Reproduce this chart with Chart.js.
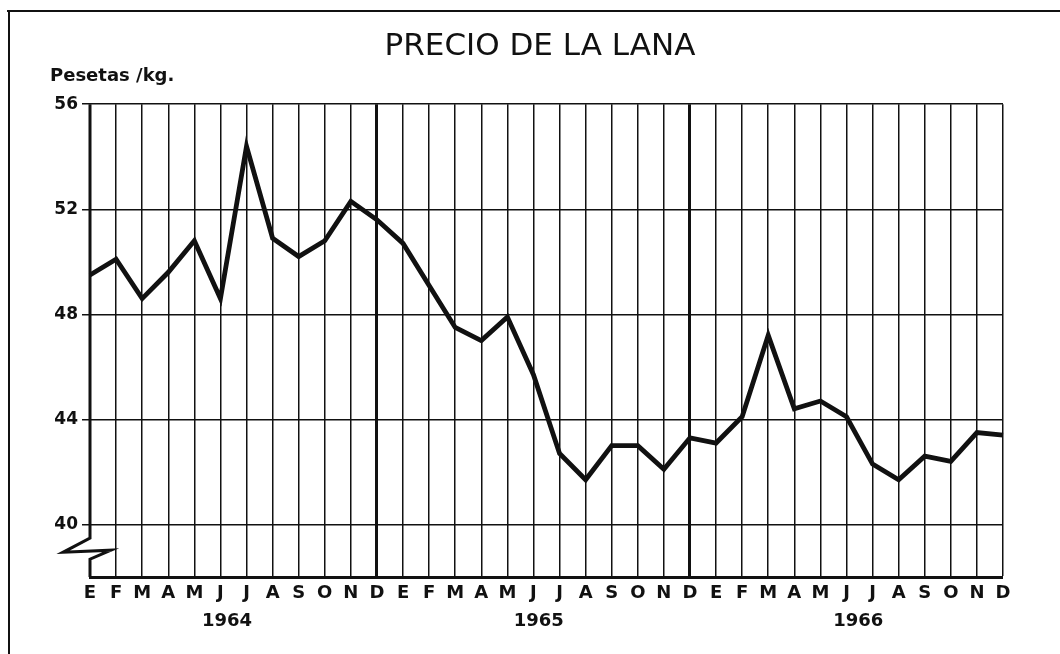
<!DOCTYPE html>
<html>
<head>
<meta charset="utf-8">
<script src="https://cdn.jsdelivr.net/npm/chart.js@4.4.0/dist/chart.umd.min.js"></script>
<style>
  html, body { margin: 0; padding: 0; background: #fff; }
</style>
</head>
<body>
<canvas id="lanaChart" width="1060" height="654"></canvas>
<script>
// datos
var years = ['1964', '1965', '1966'];
var monthLetters = ['E', 'F', 'M', 'A', 'M', 'J', 'J', 'A', 'S', 'O', 'N', 'D'];
var precio = [
  49.5, 50.1, 48.6, 49.6, 50.8, 48.6, 54.4, 50.9, 50.2, 50.8, 52.3, 51.6,
  50.7, 49.1, 47.5, 47.0, 47.9, 45.7, 42.7, 41.7, 43.0, 43.0, 42.1, 43.3,
  43.1, 44.1, 47.2, 44.4, 44.7, 44.1, 42.3, 41.7, 42.6, 42.4, 43.5, 43.4
];
var yTicks = [40, 44, 48, 52, 56];
var yMin = 38;
var yMax = 56;

var labels = [];
years.forEach(function (yr) {
  monthLetters.forEach(function (m) { labels.push(m); });
});

var ink = '#111';
var letra = '"DejaVu Sans", sans-serif';

// marco, corte del eje, unidades y años
var decor = {
  id: 'decor',
  beforeDraw: function (chart) {
    var ctx = chart.ctx;
    ctx.save();
    ctx.fillStyle = '#fff';
    ctx.fillRect(0, 0, chart.width, chart.height);
    ctx.strokeStyle = ink;
    ctx.lineWidth = 2;
    ctx.beginPath();
    ctx.moveTo(7, 11);
    ctx.lineTo(chart.width, 11);
    ctx.moveTo(9, 11);
    ctx.lineTo(9, chart.height);
    ctx.stroke();
    ctx.restore();
  },
  afterDraw: function (chart) {
    var ctx = chart.ctx;
    var x = chart.scales.x;
    var y = chart.scales.y;
    var left = chart.chartArea.left;
    ctx.save();
    ctx.strokeStyle = ink;
    ctx.lineJoin = 'miter';
    // eje vertical con el corte
    ctx.lineWidth = 3;
    ctx.beginPath();
    ctx.moveTo(left, y.top);
    ctx.lineTo(left, y.getPixelForValue(39.48));
    ctx.lineTo(left - 27, y.getPixelForValue(38.94));
    ctx.lineTo(left + 21, y.getPixelForValue(39.02));
    ctx.lineTo(left, y.getPixelForValue(38.68));
    ctx.lineTo(left, y.bottom);
    ctx.stroke();

    ctx.fillStyle = ink;
    ctx.font = 'bold 18px ' + letra;
    ctx.textAlign = 'left';
    ctx.textBaseline = 'alphabetic';
    ctx.fillText('Pesetas /kg.', 50, 81);

    var centros = [5.25, 17.2, 29.45];
    ctx.textAlign = 'center';
    years.forEach(function (yr, i) {
      ctx.fillText(yr, x.getPixelForValue(centros[i]), 626);
    });
    ctx.restore();
  }
};

var ctx = document.getElementById('lanaChart');
var lanaChart = new Chart(ctx, {
  type: 'line',
  data: {
    labels: labels,
    datasets: [
      {
        label: 'Precio de la lana',
        data: precio,
        borderColor: ink,
        borderWidth: 4.8,
        borderJoinStyle: 'miter',
        pointRadius: 0,
        tension: 0,
        fill: false
      }
    ]
  },
  options: {
    responsive: false,
    animation: false,
    layout: { padding: { left: 20, right: 0, top: 0, bottom: 0 } },
    plugins: {
      legend: { display: false },
      tooltip: { enabled: false },
      title: {
        display: true,
        text: 'PRECIO DE LA LANA',
        color: ink,
        font: { family: letra, size: 31, weight: 'normal' },
        padding: { top: 28, bottom: 39 }
      }
    },
    scales: {
      x: {
        offset: false,
        border: { display: true, color: ink, width: 3 },
        grid: {
          color: ink,
          drawTicks: false,
          lineWidth: function (c) {
            if (c.index === 0) return 0;
            if (c.index % 12 === 11 && c.index < labels.length - 1) return 3;
            return 1.5;
          }
        },
        ticks: {
          color: ink,
          autoSkip: false,
          maxRotation: 0,
          padding: 6,
          font: { family: letra, size: 18, weight: 'bold' }
        },
        afterFit: function (s) { s.height = 77; }
      },
      y: {
        min: yMin,
        max: yMax,
        border: { display: false },
        grid: { color: ink, lineWidth: 1.5, tickLength: 8 },
        afterBuildTicks: function (s) {
          s.ticks = yTicks.map(function (v) { return { value: v }; });
        },
        ticks: {
          color: ink,
          padding: 4,
          font: { family: letra, size: 17, weight: 'bold' }
        },
        afterFit: function (s) { s.width = 70; }
      },
      y2: {
        position: 'right',
        display: true,
        border: { display: false },
        grid: { display: false },
        ticks: { display: false },
        afterFit: function (s) { s.width = 57; }
      }
    }
  },
  plugins: [decor]
});
</script>
</body>
</html>
